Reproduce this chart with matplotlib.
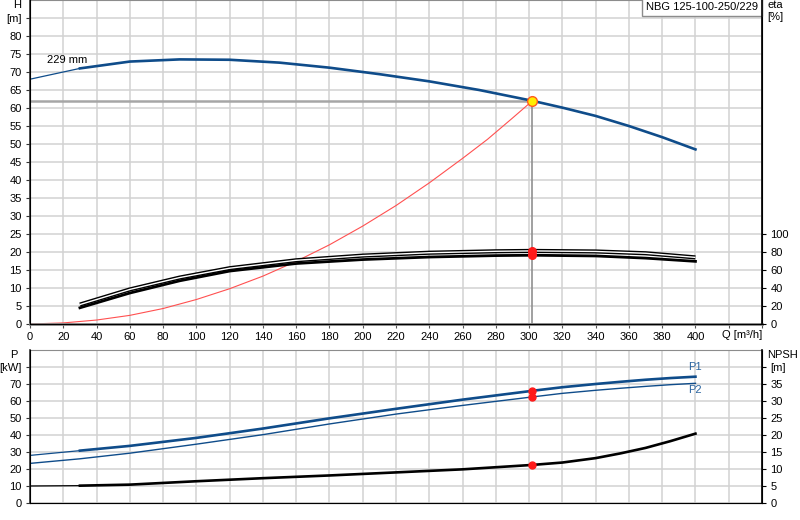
import matplotlib
matplotlib.use("Agg")
import matplotlib.pyplot as plt
import matplotlib.transforms as mtransforms

plt.rcParams['font.family'] = ['Liberation Sans', 'DejaVu Sans']
plt.rcParams['font.size'] = 8

# pump curve NBG 125-100-250/229
q_head = [0, 30, 60, 90, 120, 150, 180, 210, 240, 270, 302, 320, 340, 360, 380, 400]
head = [68.0, 71.0, 72.9, 73.5, 73.4, 72.6, 71.2, 69.4, 67.4, 65.0, 62.0, 60.1, 57.8, 55.0, 51.9, 48.5]

# system curve
q_sys = [0, 20, 40, 60, 80, 100, 120, 140, 160, 180, 200, 220, 240, 260, 275, 290, 302]
h_sys = [0, 0.3, 1.1, 2.4, 4.3, 6.8, 9.8, 13.3, 17.4, 22.0, 27.2, 32.9, 39.2, 46.0, 51.3, 57.2, 62.0]

# efficiency [%]
q_eta = [30, 60, 90, 120, 160, 200, 240, 280, 302, 340, 370, 400]
eta_pump = [21.6, 38.4, 51.6, 62.0, 70.8, 76.0, 79.2, 80.8, 81.2, 80.6, 78.6, 74.0]
eta_total = [18.0, 34.4, 48.0, 58.8, 67.2, 71.6, 74.4, 76.0, 76.4, 75.6, 73.2, 69.6]

# power [kW] and NPSH [m]
q_low = [0, 30, 60, 100, 140, 180, 220, 260, 302, 320, 340, 355, 370, 385, 400]
p1 = [28.0, 30.8, 33.6, 38.3, 43.8, 49.8, 55.4, 60.8, 66.0, 68.1, 70.0, 71.3, 72.5, 73.5, 74.3]
p2 = [23.3, 26.0, 29.3, 34.6, 40.2, 46.5, 52.3, 57.4, 62.4, 64.5, 66.3, 67.5, 68.6, 69.6, 70.4]
npsh = [5.0, 5.1, 5.4, 6.4, 7.3, 8.1, 9.0, 9.9, 11.2, 11.9, 13.2, 14.6, 16.2, 18.2, 20.4]

duty_q = 302
duty_h = 62.0
duty_eta = [81.2, 76.4]
duty_p = [66.0, 62.4]
duty_npsh = 11.2

q_ticks = list(range(0, 441, 20))
q_labels = [str(v) for v in range(0, 401, 20)] + ['', '']

blue = '#0f4c8a'
grid_c = '#d2d2d2'

fig = plt.figure(figsize=(8, 5.2), dpi=100)


def style_axes(ax):
    ax.set_xlim(0, 440)
    ax.set_xticks(q_ticks)
    ax.grid(True, color=grid_c, lw=1.1)
    ax.set_axisbelow(True)
    ax.spines['top'].set_color('#8c8c8c')
    ax.spines['left'].set_color('#333333')
    ax.spines['left'].set_linewidth(1.2)
    ax.tick_params(axis='y', length=3, pad=3, color='#333333')


# ---- top: head + efficiency
ax_h = fig.add_axes([30 / 800, 1 - 324 / 520, 732 / 800, 324 / 520])
style_axes(ax_h)
ax_h.set_ylim(0, 90)
ax_h.set_yticks(range(0, 86, 5))
ax_h.set_yticklabels([str(v) for v in range(0, 81, 5)] + ['[m]'])
ax_h.set_xticklabels(q_labels)
ax_h.tick_params(axis='x', length=3, pad=3, color='#555555')
ax_h.spines['bottom'].set_color('#8c8c8c')
ax_h.spines['bottom'].set_linewidth(2)

ax_h.plot(q_sys, h_sys, color='#ff5050', lw=0.8)
ax_h.plot([0, duty_q], [duty_h, duty_h], color='#a6a6a6', lw=1.8)
ax_h.plot([duty_q, duty_q], [0, duty_h], color='#909090', lw=1.2)
ax_h.plot(q_head[:2], head[:2], color=blue, lw=0.9)
ax_h.plot(q_head[1:], head[1:], color=blue, lw=1.9)
ax_h.plot([duty_q], [duty_h], 'o', ms=7, mfc='#ffee00', mec='#ff5a1f', mew=1, zorder=5)

ax_h.text(10, 73.4, '229 mm', va='center', ha='left')
ax_h.text(-0.018, 88.5, 'H', transform=mtransforms.blended_transform_factory(ax_h.transAxes, ax_h.transData),
          ha='center', va='center', clip_on=False)
ax_h.text(416, -3.1, 'Q [m³/h]', ha='left', va='center', clip_on=False)
ax_h.text(0.995, 0.993, 'NBG 125-100-250/229', transform=ax_h.transAxes, ha='right', va='top',
          bbox=dict(boxstyle='square,pad=0.35', fc='white', ec='#8c8c8c', lw=1), zorder=6)

ax_e = ax_h.twinx()
ax_e.set_ylim(0, 360)
ax_e.set_yticks(range(0, 101, 20))
ax_e.spines['right'].set_color('black')
ax_e.spines['right'].set_linewidth(1.2)
ax_e.spines['top'].set_visible(False)
ax_e.tick_params(axis='y', length=3, pad=3)
ax_e.plot(q_eta, eta_pump, color='black', lw=3.0, solid_capstyle='butt')
ax_e.plot(q_eta, eta_pump, color='white', lw=1.0, solid_capstyle='butt')
ax_e.plot(q_eta, eta_total, color='black', lw=2.0)
ax_e.plot([duty_q] * 2, duty_eta, 'o', ms=5.5, color='#ff1a1a', mec='#ff1a1a')
ax_e.text(1.007, 0.985, 'eta', transform=ax_e.transAxes, ha='left', va='center')
ax_e.text(1.007, 0.947, '[%]', transform=ax_e.transAxes, ha='left', va='center')

# ---- bottom: power + NPSH
ax_p = fig.add_axes([30 / 800, 1 - 503 / 520, 732 / 800, 153 / 520])
style_axes(ax_p)
ax_p.set_ylim(0, 90)
ax_p.set_yticks(range(0, 81, 10))
ax_p.set_yticklabels([str(v) for v in range(0, 71, 10)] + ['[kW]'])
ax_p.set_xticklabels([])
ax_p.tick_params(axis='x', length=0)
ax_p.spines['bottom'].set_color('#555555')

ax_p.plot(q_low[:2], p1[:2], color=blue, lw=0.9)
ax_p.plot(q_low[1:], p1[1:], color=blue, lw=1.9)
ax_p.plot(q_low, p2, color=blue, lw=1.0)
ax_p.plot([duty_q] * 2, duty_p, 'o', ms=5, color='#ff1a1a', zorder=5)
ax_p.text(399.5, 80, 'P1', color='#2a64a0', ha='center', va='center')
ax_p.text(399.5, 66.5, 'P2', color='#2a64a0', ha='center', va='center')
ax_p.text(-0.022, 87, 'P', transform=mtransforms.blended_transform_factory(ax_p.transAxes, ax_p.transData),
          ha='center', va='center', clip_on=False)

ax_n = ax_p.twinx()
ax_n.set_ylim(0, 45)
ax_n.set_yticks(range(0, 41, 5))
ax_n.set_yticklabels([str(v) for v in range(0, 36, 5)] + ['[m]'])
ax_n.spines['right'].set_color('black')
ax_n.spines['right'].set_linewidth(1.2)
ax_n.spines['top'].set_visible(False)
ax_n.tick_params(axis='y', length=3, pad=3)
ax_n.plot(q_low[:2], npsh[:2], color='black', lw=0.9)
ax_n.plot(q_low[1:], npsh[1:], color='black', lw=1.9)
ax_n.plot([duty_q], [duty_npsh], 'o', ms=5, color='#ff1a1a', zorder=5)
ax_n.text(1.007, 43.6, 'NPSH', transform=mtransforms.blended_transform_factory(ax_n.transAxes, ax_n.transData),
          ha='left', va='center', clip_on=False)

fig.savefig('out.png', dpi=100)
